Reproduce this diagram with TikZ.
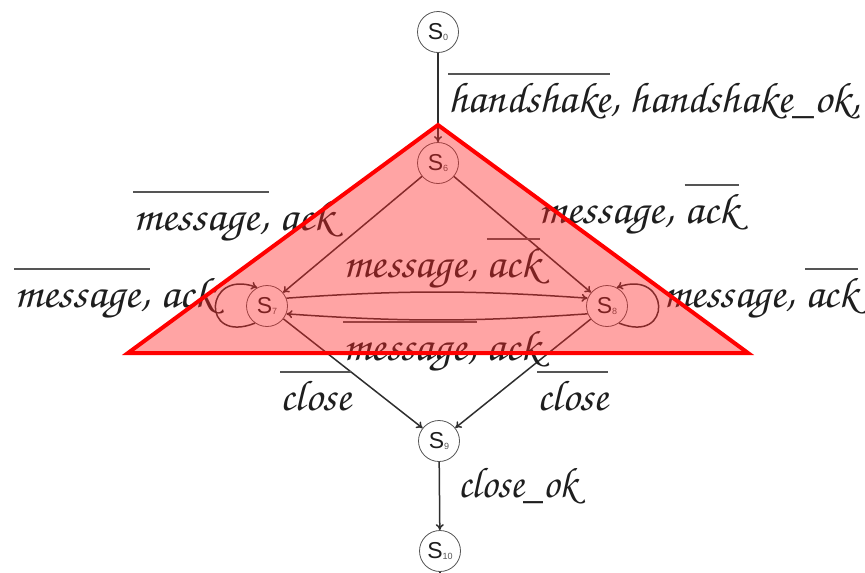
\documentclass[tikz,border=0pt]{standalone}
\usepackage[T1]{fontenc}
\usepackage{fontspec}
\usepackage{graphicx}
\usetikzlibrary{arrows.meta}
\newfontfamily\statefont{Liberation Sans}
\definecolor{edgec}{HTML}{2E2E2E}
\definecolor{circc}{HTML}{555555}
\definecolor{olc}{HTML}{555555}
\definecolor{txtc}{HTML}{1E1E1E}
\newcommand\labfont{\fontencoding{T1}\fontfamily{pzc}\fontseries{mb}\fontshape{it}\fontsize{43}{46}\selectfont}
\newcommand\ovl[1]{\setbox0\hbox{#1}\rlap{\raisebox{37pt}{\color{olc}\rule{\wd0}{1.6pt}}}\box0{}}
\newcommand\lb[2][1.06]{\scalebox{#1}[1]{#2}}
\newcommand\stt[1]{{\statefont\fontsize{23}{25}\selectfont S\raisebox{-1pt}{\fontsize{9}{10}\selectfont\color{circc}#1}}}
\tikzset{
  state/.style={circle, draw=circc, line width=0.8pt, minimum size=41pt, inner sep=0pt, text=txtc},
  conn/.style={draw=edgec, line width=1.5pt, -{To[length=6pt,width=8pt]}},
  lab/.style={anchor=base west, inner sep=0pt, text=txtc, font=\labfont},
}
\begin{document}
\begin{tikzpicture}[x=1pt,y=-1pt]
\useasboundingbox (0,0) rectangle (865,573);
% states
\node[state] (s0) at (438,32) {\stt{0}};
\node[state] (s6) at (438,163) {\stt{6}};
\node[state] (s7) at (267,306) {\stt{7}};
\node[state] (s8) at (607,306) {\stt{8}};
\node[state] (s9) at (439,441) {\stt{9}};
\node[state] (s10) at (440,551) {\stt{10}};
\coordinate (tail) at (440,580);
% connectors
\draw[conn] (s0) -- (s6);
\draw[conn] (s6) -- (s7);
\draw[conn] (s6) -- (s8);
\draw[conn] (s7.22) to[bend left=4] (s8.158);
\draw[conn] (s8.-158) to[bend left=4] (s7.-22);
\draw[conn] (s7.235) .. controls (200,345) and (204,268) .. (s7.118);
\draw[conn] (s8.-55) .. controls (674,345) and (670,268) .. (s8.62);
\draw[conn] (s7) -- (s9);
\draw[conn] (s8) -- (s9);
\draw[conn] (s9) -- (s10);
\draw[draw=edgec, line width=1.5pt] (s10) -- (tail);
% labels
\node[lab] (l0) at (448,112) {\lb[1.02]{\ovl{handshake}, handshake\_ok,}};
\node[lab] (l1) at (133,230) {\lb{\ovl{message,} ack}};
\node[lab] (l2) at (538,223) {\lb{message, \ovl{ack}}};
\node[lab] (l3) at (343,277) {\lb[1.04]{message, \ovl{ack}}};
\node[lab] (l4) at (14,307) {\lb{\ovl{message,} ack}};
\node[lab] (l5) at (663,307) {\lb[1.03]{message, \ovl{ack}}};
\node[lab] (l6) at (343,360) {\lb[1.04]{\ovl{message,} ack}};
\node[lab] (l7) at (280,410) {\lb[1.0]{\ovl{close}}};
\node[lab] (l8) at (537,410) {\lb[1.0]{\ovl{close}}};
\node[lab] (l9) at (458,497) {\lb[0.93]{close\_ok}};
% overlay triangle
\draw[red, line width=4pt, line join=miter, fill=red!85, fill opacity=0.42] (438,125) -- (748,353) -- (128,353) -- cycle;
\end{tikzpicture}
\end{document}
